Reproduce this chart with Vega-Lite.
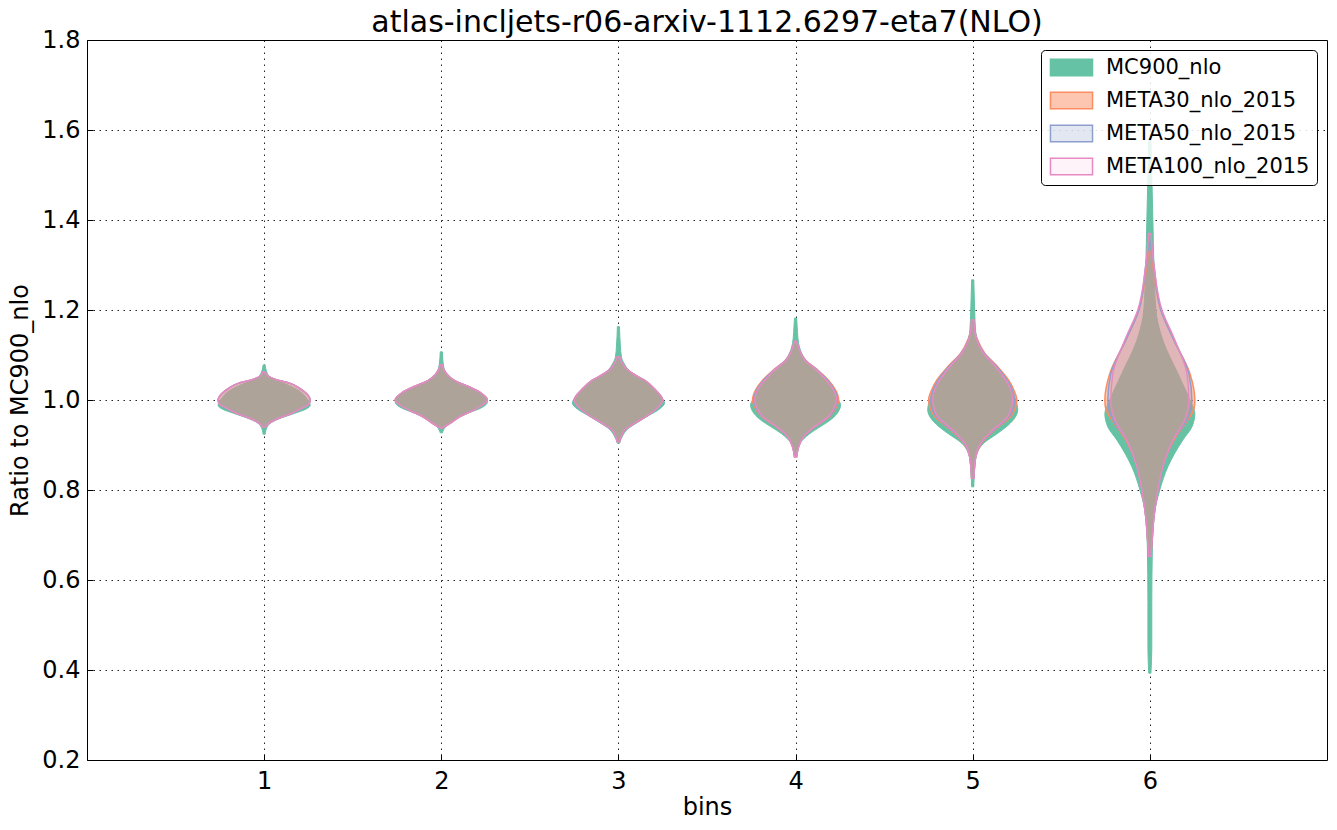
{
"$schema":"https://vega.github.io/schema/vega-lite/v6.json",
"autosize":{"type":"none"},
"padding":{"left":87,"top":40,"right":10,"bottom":70},
"width":1240,"height":720,
"title":{"text":"atlas-incljets-r06-arxiv-1112.6297-eta7(NLO)","fontSize":30,"font":"DejaVu Sans","fontWeight":"normal","color":"#000","offset":-10},
"config":{"font":"DejaVu Sans","view":{"stroke":"#000","strokeWidth":1},
"axis":{"labelFont":"DejaVu Sans","labelFontSize":24,"labelColor":"#000","titleFont":"DejaVu Sans","titleFontSize":24,"titleFontWeight":"normal","titleColor":"#000","grid":true,"gridColor":"#000","gridDash":[1.5,4.5],"gridOpacity":0.85,"domain":false,"tickColor":"#000","tickSize":-6,"zindex":1},
"legend":{"title":null,"orient":"top-right","offset":10,"symbolType":"M-2.55,-1H2.55V1H-2.55Z","symbolSize":272,"symbolOffset":13,"symbolStrokeWidth":1.5,"labelFontSize":21,"labelFont":"DejaVu Sans","labelColor":"#000","labelOffset":24,"labelLimit":400,"rowPadding":10,"padding":7,"strokeColor":"#000","fillColor":"rgba(255,255,255,0.85)","cornerRadius":4}},
"data":{"values":[
{"b":1,"s":"MC900_nlo","y":1.078,"w":0.006},{"b":1,"s":"MC900_nlo","y":1.06,"w":0.017},{"b":1,"s":"MC900_nlo","y":1.045,"w":0.056},{"b":1,"s":"MC900_nlo","y":1.035,"w":0.124},{"b":1,"s":"MC900_nlo","y":1.02,"w":0.198},{"b":1,"s":"MC900_nlo","y":1.005,"w":0.237},{"b":1,"s":"MC900_nlo","y":0.988,"w":0.26},{"b":1,"s":"MC900_nlo","y":0.98,"w":0.237},{"b":1,"s":"MC900_nlo","y":0.97,"w":0.169},{"b":1,"s":"MC900_nlo","y":0.96,"w":0.096},{"b":1,"s":"MC900_nlo","y":0.95,"w":0.04},{"b":1,"s":"MC900_nlo","y":0.94,"w":0.017},{"b":1,"s":"MC900_nlo","y":0.924,"w":0.006},
{"b":1,"s":"META30_nlo_2015","y":1.062,"w":0.006},{"b":1,"s":"META30_nlo_2015","y":1.055,"w":0.017},{"b":1,"s":"META30_nlo_2015","y":1.045,"w":0.068},{"b":1,"s":"META30_nlo_2015","y":1.037,"w":0.147},{"b":1,"s":"META30_nlo_2015","y":1.025,"w":0.203},{"b":1,"s":"META30_nlo_2015","y":1.015,"w":0.237},{"b":1,"s":"META30_nlo_2015","y":1.0,"w":0.26},{"b":1,"s":"META30_nlo_2015","y":0.99,"w":0.249},{"b":1,"s":"META30_nlo_2015","y":0.98,"w":0.203},{"b":1,"s":"META30_nlo_2015","y":0.97,"w":0.153},{"b":1,"s":"META30_nlo_2015","y":0.96,"w":0.085},{"b":1,"s":"META30_nlo_2015","y":0.95,"w":0.034},{"b":1,"s":"META30_nlo_2015","y":0.94,"w":0.006},
{"b":1,"s":"META50_nlo_2015","y":1.062,"w":0.006},{"b":1,"s":"META50_nlo_2015","y":1.055,"w":0.017},{"b":1,"s":"META50_nlo_2015","y":1.045,"w":0.068},{"b":1,"s":"META50_nlo_2015","y":1.037,"w":0.147},{"b":1,"s":"META50_nlo_2015","y":1.025,"w":0.203},{"b":1,"s":"META50_nlo_2015","y":1.015,"w":0.237},{"b":1,"s":"META50_nlo_2015","y":1.0,"w":0.26},{"b":1,"s":"META50_nlo_2015","y":0.99,"w":0.249},{"b":1,"s":"META50_nlo_2015","y":0.98,"w":0.203},{"b":1,"s":"META50_nlo_2015","y":0.97,"w":0.153},{"b":1,"s":"META50_nlo_2015","y":0.96,"w":0.085},{"b":1,"s":"META50_nlo_2015","y":0.95,"w":0.034},{"b":1,"s":"META50_nlo_2015","y":0.94,"w":0.006},
{"b":1,"s":"META100_nlo_2015","y":1.062,"w":0.006},{"b":1,"s":"META100_nlo_2015","y":1.055,"w":0.017},{"b":1,"s":"META100_nlo_2015","y":1.045,"w":0.068},{"b":1,"s":"META100_nlo_2015","y":1.037,"w":0.147},{"b":1,"s":"META100_nlo_2015","y":1.025,"w":0.203},{"b":1,"s":"META100_nlo_2015","y":1.015,"w":0.237},{"b":1,"s":"META100_nlo_2015","y":1.0,"w":0.26},{"b":1,"s":"META100_nlo_2015","y":0.99,"w":0.249},{"b":1,"s":"META100_nlo_2015","y":0.98,"w":0.203},{"b":1,"s":"META100_nlo_2015","y":0.97,"w":0.153},{"b":1,"s":"META100_nlo_2015","y":0.96,"w":0.085},{"b":1,"s":"META100_nlo_2015","y":0.95,"w":0.034},{"b":1,"s":"META100_nlo_2015","y":0.94,"w":0.006},
{"b":2,"s":"MC900_nlo","y":1.107,"w":0.006},{"b":2,"s":"MC900_nlo","y":1.08,"w":0.011},{"b":2,"s":"MC900_nlo","y":1.06,"w":0.028},{"b":2,"s":"MC900_nlo","y":1.045,"w":0.068},{"b":2,"s":"MC900_nlo","y":1.03,"w":0.153},{"b":2,"s":"MC900_nlo","y":1.015,"w":0.226},{"b":2,"s":"MC900_nlo","y":0.995,"w":0.26},{"b":2,"s":"MC900_nlo","y":0.985,"w":0.237},{"b":2,"s":"MC900_nlo","y":0.97,"w":0.147},{"b":2,"s":"MC900_nlo","y":0.955,"w":0.068},{"b":2,"s":"MC900_nlo","y":0.94,"w":0.023},{"b":2,"s":"MC900_nlo","y":0.927,"w":0.006},
{"b":2,"s":"META30_nlo_2015","y":1.078,"w":0.006},{"b":2,"s":"META30_nlo_2015","y":1.065,"w":0.017},{"b":2,"s":"META30_nlo_2015","y":1.05,"w":0.051},{"b":2,"s":"META30_nlo_2015","y":1.04,"w":0.09},{"b":2,"s":"META30_nlo_2015","y":1.03,"w":0.153},{"b":2,"s":"META30_nlo_2015","y":1.015,"w":0.226},{"b":2,"s":"META30_nlo_2015","y":1.0,"w":0.26},{"b":2,"s":"META30_nlo_2015","y":0.99,"w":0.237},{"b":2,"s":"META30_nlo_2015","y":0.975,"w":0.169},{"b":2,"s":"META30_nlo_2015","y":0.965,"w":0.113},{"b":2,"s":"META30_nlo_2015","y":0.95,"w":0.056},{"b":2,"s":"META30_nlo_2015","y":0.938,"w":0.006},
{"b":2,"s":"META50_nlo_2015","y":1.078,"w":0.006},{"b":2,"s":"META50_nlo_2015","y":1.065,"w":0.017},{"b":2,"s":"META50_nlo_2015","y":1.05,"w":0.051},{"b":2,"s":"META50_nlo_2015","y":1.04,"w":0.09},{"b":2,"s":"META50_nlo_2015","y":1.03,"w":0.153},{"b":2,"s":"META50_nlo_2015","y":1.015,"w":0.226},{"b":2,"s":"META50_nlo_2015","y":1.0,"w":0.26},{"b":2,"s":"META50_nlo_2015","y":0.99,"w":0.237},{"b":2,"s":"META50_nlo_2015","y":0.975,"w":0.169},{"b":2,"s":"META50_nlo_2015","y":0.965,"w":0.113},{"b":2,"s":"META50_nlo_2015","y":0.95,"w":0.056},{"b":2,"s":"META50_nlo_2015","y":0.938,"w":0.006},
{"b":2,"s":"META100_nlo_2015","y":1.078,"w":0.006},{"b":2,"s":"META100_nlo_2015","y":1.065,"w":0.017},{"b":2,"s":"META100_nlo_2015","y":1.05,"w":0.051},{"b":2,"s":"META100_nlo_2015","y":1.04,"w":0.09},{"b":2,"s":"META100_nlo_2015","y":1.03,"w":0.153},{"b":2,"s":"META100_nlo_2015","y":1.015,"w":0.226},{"b":2,"s":"META100_nlo_2015","y":1.0,"w":0.26},{"b":2,"s":"META100_nlo_2015","y":0.99,"w":0.237},{"b":2,"s":"META100_nlo_2015","y":0.975,"w":0.169},{"b":2,"s":"META100_nlo_2015","y":0.965,"w":0.113},{"b":2,"s":"META100_nlo_2015","y":0.95,"w":0.056},{"b":2,"s":"META100_nlo_2015","y":0.938,"w":0.006},
{"b":3,"s":"MC900_nlo","y":1.163,"w":0.006},{"b":3,"s":"MC900_nlo","y":1.12,"w":0.011},{"b":3,"s":"MC900_nlo","y":1.095,"w":0.017},{"b":3,"s":"MC900_nlo","y":1.08,"w":0.034},{"b":3,"s":"MC900_nlo","y":1.065,"w":0.062},{"b":3,"s":"MC900_nlo","y":1.05,"w":0.119},{"b":3,"s":"MC900_nlo","y":1.03,"w":0.186},{"b":3,"s":"MC900_nlo","y":1.01,"w":0.237},{"b":3,"s":"MC900_nlo","y":0.993,"w":0.26},{"b":3,"s":"MC900_nlo","y":0.98,"w":0.232},{"b":3,"s":"MC900_nlo","y":0.965,"w":0.169},{"b":3,"s":"MC900_nlo","y":0.95,"w":0.107},{"b":3,"s":"MC900_nlo","y":0.935,"w":0.051},{"b":3,"s":"MC900_nlo","y":0.92,"w":0.023},{"b":3,"s":"MC900_nlo","y":0.904,"w":0.006},
{"b":3,"s":"META30_nlo_2015","y":1.096,"w":0.006},{"b":3,"s":"META30_nlo_2015","y":1.085,"w":0.017},{"b":3,"s":"META30_nlo_2015","y":1.067,"w":0.051},{"b":3,"s":"META30_nlo_2015","y":1.055,"w":0.096},{"b":3,"s":"META30_nlo_2015","y":1.044,"w":0.147},{"b":3,"s":"META30_nlo_2015","y":1.022,"w":0.209},{"b":3,"s":"META30_nlo_2015","y":1.0,"w":0.249},{"b":3,"s":"META30_nlo_2015","y":0.985,"w":0.226},{"b":3,"s":"META30_nlo_2015","y":0.97,"w":0.181},{"b":3,"s":"META30_nlo_2015","y":0.948,"w":0.09},{"b":3,"s":"META30_nlo_2015","y":0.933,"w":0.034},{"b":3,"s":"META30_nlo_2015","y":0.92,"w":0.017},{"b":3,"s":"META30_nlo_2015","y":0.907,"w":0.006},
{"b":3,"s":"META50_nlo_2015","y":1.096,"w":0.006},{"b":3,"s":"META50_nlo_2015","y":1.085,"w":0.017},{"b":3,"s":"META50_nlo_2015","y":1.067,"w":0.051},{"b":3,"s":"META50_nlo_2015","y":1.055,"w":0.096},{"b":3,"s":"META50_nlo_2015","y":1.044,"w":0.147},{"b":3,"s":"META50_nlo_2015","y":1.022,"w":0.209},{"b":3,"s":"META50_nlo_2015","y":1.0,"w":0.249},{"b":3,"s":"META50_nlo_2015","y":0.985,"w":0.226},{"b":3,"s":"META50_nlo_2015","y":0.97,"w":0.181},{"b":3,"s":"META50_nlo_2015","y":0.948,"w":0.09},{"b":3,"s":"META50_nlo_2015","y":0.933,"w":0.034},{"b":3,"s":"META50_nlo_2015","y":0.92,"w":0.017},{"b":3,"s":"META50_nlo_2015","y":0.907,"w":0.006},
{"b":3,"s":"META100_nlo_2015","y":1.096,"w":0.006},{"b":3,"s":"META100_nlo_2015","y":1.085,"w":0.017},{"b":3,"s":"META100_nlo_2015","y":1.067,"w":0.051},{"b":3,"s":"META100_nlo_2015","y":1.055,"w":0.096},{"b":3,"s":"META100_nlo_2015","y":1.044,"w":0.147},{"b":3,"s":"META100_nlo_2015","y":1.022,"w":0.209},{"b":3,"s":"META100_nlo_2015","y":1.0,"w":0.249},{"b":3,"s":"META100_nlo_2015","y":0.985,"w":0.226},{"b":3,"s":"META100_nlo_2015","y":0.97,"w":0.181},{"b":3,"s":"META100_nlo_2015","y":0.948,"w":0.09},{"b":3,"s":"META100_nlo_2015","y":0.933,"w":0.034},{"b":3,"s":"META100_nlo_2015","y":0.92,"w":0.017},{"b":3,"s":"META100_nlo_2015","y":0.907,"w":0.006},
{"b":4,"s":"MC900_nlo","y":1.182,"w":0.006},{"b":4,"s":"MC900_nlo","y":1.15,"w":0.011},{"b":4,"s":"MC900_nlo","y":1.126,"w":0.017},{"b":4,"s":"MC900_nlo","y":1.104,"w":0.034},{"b":4,"s":"MC900_nlo","y":1.085,"w":0.062},{"b":4,"s":"MC900_nlo","y":1.065,"w":0.113},{"b":4,"s":"MC900_nlo","y":1.044,"w":0.169},{"b":4,"s":"MC900_nlo","y":1.02,"w":0.22},{"b":4,"s":"MC900_nlo","y":1.0,"w":0.243},{"b":4,"s":"MC900_nlo","y":0.989,"w":0.254},{"b":4,"s":"MC900_nlo","y":0.975,"w":0.243},{"b":4,"s":"MC900_nlo","y":0.956,"w":0.198},{"b":4,"s":"MC900_nlo","y":0.941,"w":0.141},{"b":4,"s":"MC900_nlo","y":0.925,"w":0.079},{"b":4,"s":"MC900_nlo","y":0.905,"w":0.028},{"b":4,"s":"MC900_nlo","y":0.875,"w":0.006},
{"b":4,"s":"META30_nlo_2015","y":1.13,"w":0.006},{"b":4,"s":"META30_nlo_2015","y":1.11,"w":0.023},{"b":4,"s":"META30_nlo_2015","y":1.089,"w":0.056},{"b":4,"s":"META30_nlo_2015","y":1.067,"w":0.124},{"b":4,"s":"META30_nlo_2015","y":1.044,"w":0.186},{"b":4,"s":"META30_nlo_2015","y":1.022,"w":0.226},{"b":4,"s":"META30_nlo_2015","y":1.0,"w":0.243},{"b":4,"s":"META30_nlo_2015","y":0.985,"w":0.232},{"b":4,"s":"META30_nlo_2015","y":0.963,"w":0.192},{"b":4,"s":"META30_nlo_2015","y":0.941,"w":0.113},{"b":4,"s":"META30_nlo_2015","y":0.919,"w":0.045},{"b":4,"s":"META30_nlo_2015","y":0.896,"w":0.017},{"b":4,"s":"META30_nlo_2015","y":0.874,"w":0.006},
{"b":4,"s":"META50_nlo_2015","y":1.13,"w":0.006},{"b":4,"s":"META50_nlo_2015","y":1.11,"w":0.023},{"b":4,"s":"META50_nlo_2015","y":1.089,"w":0.054},{"b":4,"s":"META50_nlo_2015","y":1.067,"w":0.121},{"b":4,"s":"META50_nlo_2015","y":1.044,"w":0.181},{"b":4,"s":"META50_nlo_2015","y":1.022,"w":0.22},{"b":4,"s":"META50_nlo_2015","y":1.0,"w":0.237},{"b":4,"s":"META50_nlo_2015","y":0.985,"w":0.226},{"b":4,"s":"META50_nlo_2015","y":0.963,"w":0.189},{"b":4,"s":"META50_nlo_2015","y":0.941,"w":0.11},{"b":4,"s":"META50_nlo_2015","y":0.919,"w":0.045},{"b":4,"s":"META50_nlo_2015","y":0.896,"w":0.017},{"b":4,"s":"META50_nlo_2015","y":0.874,"w":0.006},
{"b":4,"s":"META100_nlo_2015","y":1.13,"w":0.006},{"b":4,"s":"META100_nlo_2015","y":1.11,"w":0.023},{"b":4,"s":"META100_nlo_2015","y":1.089,"w":0.051},{"b":4,"s":"META100_nlo_2015","y":1.067,"w":0.119},{"b":4,"s":"META100_nlo_2015","y":1.044,"w":0.175},{"b":4,"s":"META100_nlo_2015","y":1.022,"w":0.215},{"b":4,"s":"META100_nlo_2015","y":1.0,"w":0.232},{"b":4,"s":"META100_nlo_2015","y":0.985,"w":0.22},{"b":4,"s":"META100_nlo_2015","y":0.963,"w":0.186},{"b":4,"s":"META100_nlo_2015","y":0.941,"w":0.107},{"b":4,"s":"META100_nlo_2015","y":0.919,"w":0.045},{"b":4,"s":"META100_nlo_2015","y":0.896,"w":0.017},{"b":4,"s":"META100_nlo_2015","y":0.874,"w":0.006},
{"b":5,"s":"MC900_nlo","y":1.267,"w":0.006},{"b":5,"s":"MC900_nlo","y":1.2,"w":0.011},{"b":5,"s":"MC900_nlo","y":1.15,"w":0.017},{"b":5,"s":"MC900_nlo","y":1.12,"w":0.04},{"b":5,"s":"MC900_nlo","y":1.09,"w":0.09},{"b":5,"s":"MC900_nlo","y":1.06,"w":0.153},{"b":5,"s":"MC900_nlo","y":1.03,"w":0.209},{"b":5,"s":"MC900_nlo","y":1.0,"w":0.243},{"b":5,"s":"MC900_nlo","y":0.978,"w":0.254},{"b":5,"s":"MC900_nlo","y":0.96,"w":0.237},{"b":5,"s":"MC900_nlo","y":0.945,"w":0.203},{"b":5,"s":"MC900_nlo","y":0.926,"w":0.141},{"b":5,"s":"MC900_nlo","y":0.904,"w":0.062},{"b":5,"s":"MC900_nlo","y":0.87,"w":0.017},{"b":5,"s":"MC900_nlo","y":0.807,"w":0.006},
{"b":5,"s":"META30_nlo_2015","y":1.178,"w":0.006},{"b":5,"s":"META30_nlo_2015","y":1.155,"w":0.011},{"b":5,"s":"META30_nlo_2015","y":1.133,"w":0.028},{"b":5,"s":"META30_nlo_2015","y":1.104,"w":0.068},{"b":5,"s":"META30_nlo_2015","y":1.074,"w":0.141},{"b":5,"s":"META30_nlo_2015","y":1.044,"w":0.203},{"b":5,"s":"META30_nlo_2015","y":1.022,"w":0.232},{"b":5,"s":"META30_nlo_2015","y":1.0,"w":0.249},{"b":5,"s":"META30_nlo_2015","y":0.985,"w":0.243},{"b":5,"s":"META30_nlo_2015","y":0.963,"w":0.215},{"b":5,"s":"META30_nlo_2015","y":0.933,"w":0.124},{"b":5,"s":"META30_nlo_2015","y":0.904,"w":0.051},{"b":5,"s":"META30_nlo_2015","y":0.874,"w":0.017},{"b":5,"s":"META30_nlo_2015","y":0.826,"w":0.006},
{"b":5,"s":"META50_nlo_2015","y":1.178,"w":0.006},{"b":5,"s":"META50_nlo_2015","y":1.155,"w":0.011},{"b":5,"s":"META50_nlo_2015","y":1.133,"w":0.025},{"b":5,"s":"META50_nlo_2015","y":1.104,"w":0.065},{"b":5,"s":"META50_nlo_2015","y":1.074,"w":0.136},{"b":5,"s":"META50_nlo_2015","y":1.044,"w":0.195},{"b":5,"s":"META50_nlo_2015","y":1.022,"w":0.224},{"b":5,"s":"META50_nlo_2015","y":1.0,"w":0.237},{"b":5,"s":"META50_nlo_2015","y":0.985,"w":0.232},{"b":5,"s":"META50_nlo_2015","y":0.963,"w":0.206},{"b":5,"s":"META50_nlo_2015","y":0.933,"w":0.119},{"b":5,"s":"META50_nlo_2015","y":0.904,"w":0.048},{"b":5,"s":"META50_nlo_2015","y":0.874,"w":0.017},{"b":5,"s":"META50_nlo_2015","y":0.826,"w":0.006},
{"b":5,"s":"META100_nlo_2015","y":1.178,"w":0.006},{"b":5,"s":"META100_nlo_2015","y":1.155,"w":0.011},{"b":5,"s":"META100_nlo_2015","y":1.133,"w":0.023},{"b":5,"s":"META100_nlo_2015","y":1.104,"w":0.062},{"b":5,"s":"META100_nlo_2015","y":1.074,"w":0.13},{"b":5,"s":"META100_nlo_2015","y":1.044,"w":0.186},{"b":5,"s":"META100_nlo_2015","y":1.022,"w":0.215},{"b":5,"s":"META100_nlo_2015","y":1.0,"w":0.226},{"b":5,"s":"META100_nlo_2015","y":0.985,"w":0.22},{"b":5,"s":"META100_nlo_2015","y":0.963,"w":0.198},{"b":5,"s":"META100_nlo_2015","y":0.933,"w":0.113},{"b":5,"s":"META100_nlo_2015","y":0.904,"w":0.045},{"b":5,"s":"META100_nlo_2015","y":0.874,"w":0.017},{"b":5,"s":"META100_nlo_2015","y":0.826,"w":0.006},
{"b":6,"s":"MC900_nlo","y":1.58,"w":0.006},{"b":6,"s":"MC900_nlo","y":1.5,"w":0.011},{"b":6,"s":"MC900_nlo","y":1.4,"w":0.017},{"b":6,"s":"MC900_nlo","y":1.3,"w":0.023},{"b":6,"s":"MC900_nlo","y":1.2,"w":0.034},{"b":6,"s":"MC900_nlo","y":1.133,"w":0.073},{"b":6,"s":"MC900_nlo","y":1.059,"w":0.158},{"b":6,"s":"MC900_nlo","y":1.0,"w":0.226},{"b":6,"s":"MC900_nlo","y":0.97,"w":0.254},{"b":6,"s":"MC900_nlo","y":0.94,"w":0.237},{"b":6,"s":"MC900_nlo","y":0.911,"w":0.186},{"b":6,"s":"MC900_nlo","y":0.852,"w":0.102},{"b":6,"s":"MC900_nlo","y":0.8,"w":0.056},{"b":6,"s":"MC900_nlo","y":0.74,"w":0.023},{"b":6,"s":"MC900_nlo","y":0.67,"w":0.014},{"b":6,"s":"MC900_nlo","y":0.55,"w":0.011},{"b":6,"s":"MC900_nlo","y":0.45,"w":0.011},{"b":6,"s":"MC900_nlo","y":0.393,"w":0.006},
{"b":6,"s":"META30_nlo_2015","y":1.33,"w":0.006},{"b":6,"s":"META30_nlo_2015","y":1.28,"w":0.023},{"b":6,"s":"META30_nlo_2015","y":1.2,"w":0.062},{"b":6,"s":"META30_nlo_2015","y":1.133,"w":0.136},{"b":6,"s":"META30_nlo_2015","y":1.059,"w":0.226},{"b":6,"s":"META30_nlo_2015","y":1.0,"w":0.254},{"b":6,"s":"META30_nlo_2015","y":0.98,"w":0.249},{"b":6,"s":"META30_nlo_2015","y":0.956,"w":0.215},{"b":6,"s":"META30_nlo_2015","y":0.911,"w":0.136},{"b":6,"s":"META30_nlo_2015","y":0.852,"w":0.073},{"b":6,"s":"META30_nlo_2015","y":0.8,"w":0.045},{"b":6,"s":"META30_nlo_2015","y":0.74,"w":0.023},{"b":6,"s":"META30_nlo_2015","y":0.68,"w":0.011},{"b":6,"s":"META30_nlo_2015","y":0.66,"w":0.006},
{"b":6,"s":"META50_nlo_2015","y":1.35,"w":0.006},{"b":6,"s":"META50_nlo_2015","y":1.3,"w":0.023},{"b":6,"s":"META50_nlo_2015","y":1.2,"w":0.062},{"b":6,"s":"META50_nlo_2015","y":1.133,"w":0.136},{"b":6,"s":"META50_nlo_2015","y":1.059,"w":0.22},{"b":6,"s":"META50_nlo_2015","y":1.0,"w":0.237},{"b":6,"s":"META50_nlo_2015","y":0.98,"w":0.232},{"b":6,"s":"META50_nlo_2015","y":0.956,"w":0.209},{"b":6,"s":"META50_nlo_2015","y":0.911,"w":0.13},{"b":6,"s":"META50_nlo_2015","y":0.852,"w":0.073},{"b":6,"s":"META50_nlo_2015","y":0.8,"w":0.045},{"b":6,"s":"META50_nlo_2015","y":0.74,"w":0.023},{"b":6,"s":"META50_nlo_2015","y":0.68,"w":0.011},{"b":6,"s":"META50_nlo_2015","y":0.655,"w":0.006},
{"b":6,"s":"META100_nlo_2015","y":1.37,"w":0.006},{"b":6,"s":"META100_nlo_2015","y":1.3,"w":0.023},{"b":6,"s":"META100_nlo_2015","y":1.2,"w":0.068},{"b":6,"s":"META100_nlo_2015","y":1.133,"w":0.141},{"b":6,"s":"META100_nlo_2015","y":1.059,"w":0.209},{"b":6,"s":"META100_nlo_2015","y":1.0,"w":0.22},{"b":6,"s":"META100_nlo_2015","y":0.98,"w":0.215},{"b":6,"s":"META100_nlo_2015","y":0.956,"w":0.198},{"b":6,"s":"META100_nlo_2015","y":0.911,"w":0.13},{"b":6,"s":"META100_nlo_2015","y":0.852,"w":0.073},{"b":6,"s":"META100_nlo_2015","y":0.8,"w":0.045},{"b":6,"s":"META100_nlo_2015","y":0.74,"w":0.023},{"b":6,"s":"META100_nlo_2015","y":0.68,"w":0.011},{"b":6,"s":"META100_nlo_2015","y":0.652,"w":0.006}
]},
"transform":[{"calculate":"datum.b-datum.w","as":"lo"},{"calculate":"datum.b+datum.w","as":"hi"}],
"encoding":{
"y":{"field":"y","type":"quantitative","scale":{"domain":[0.2,1.8],"nice":false,"zero":false},"axis":{"values":[0.2,0.4,0.6,0.8,1.0,1.2,1.4,1.6,1.8],"format":".1f","title":"Ratio to MC900_nlo","labelPadding":13,"titlePadding":9}},
"x":{"field":"lo","type":"quantitative","scale":{"domain":[0,7],"nice":false,"zero":false},"axis":{"values":[1,2,3,4,5,6],"format":"d","title":"bins","labelPadding":15,"titlePadding":2}},
"x2":{"field":"hi"},
"detail":{"field":"b"},
"color":{"field":"s","type":"nominal","scale":{"domain":["MC900_nlo","META30_nlo_2015","META50_nlo_2015","META100_nlo_2015"],"range":["#66c2a5","#fc8d62","#8da0cb","#e78ac3"]},"legend":{"symbolOpacity":1,"encode":{"symbols":{"update":{"fillOpacity":{"signal":"datum.value==='MC900_nlo'?1:datum.value==='META30_nlo_2015'?0.5:datum.value==='META50_nlo_2015'?0.25:0.1"},"opacity":{"value":1}}}}}},
"stroke":{"field":"s","type":"nominal","scale":{"domain":["MC900_nlo","META30_nlo_2015","META50_nlo_2015","META100_nlo_2015"],"range":["#66c2a5","#fc8d62","#8da0cb","#e78ac3"]}}
},
"layer":[
{"transform":[{"filter":{"field":"s","equal":"MC900_nlo"}}],"mark":{"type":"area","orient":"horizontal","interpolate":"monotone","strokeWidth":1,"opacity":1,"fillOpacity":1}},
{"transform":[{"filter":{"field":"s","equal":"META30_nlo_2015"}}],"mark":{"type":"area","orient":"horizontal","interpolate":"monotone","strokeWidth":1.5,"opacity":1,"fillOpacity":0.5}},
{"transform":[{"filter":{"field":"s","equal":"META50_nlo_2015"}}],"mark":{"type":"area","orient":"horizontal","interpolate":"monotone","strokeWidth":1.5,"opacity":1,"fillOpacity":0.25}},
{"transform":[{"filter":{"field":"s","equal":"META100_nlo_2015"}}],"mark":{"type":"area","orient":"horizontal","interpolate":"monotone","strokeWidth":1.5,"opacity":1,"fillOpacity":0.1}}
]
}
